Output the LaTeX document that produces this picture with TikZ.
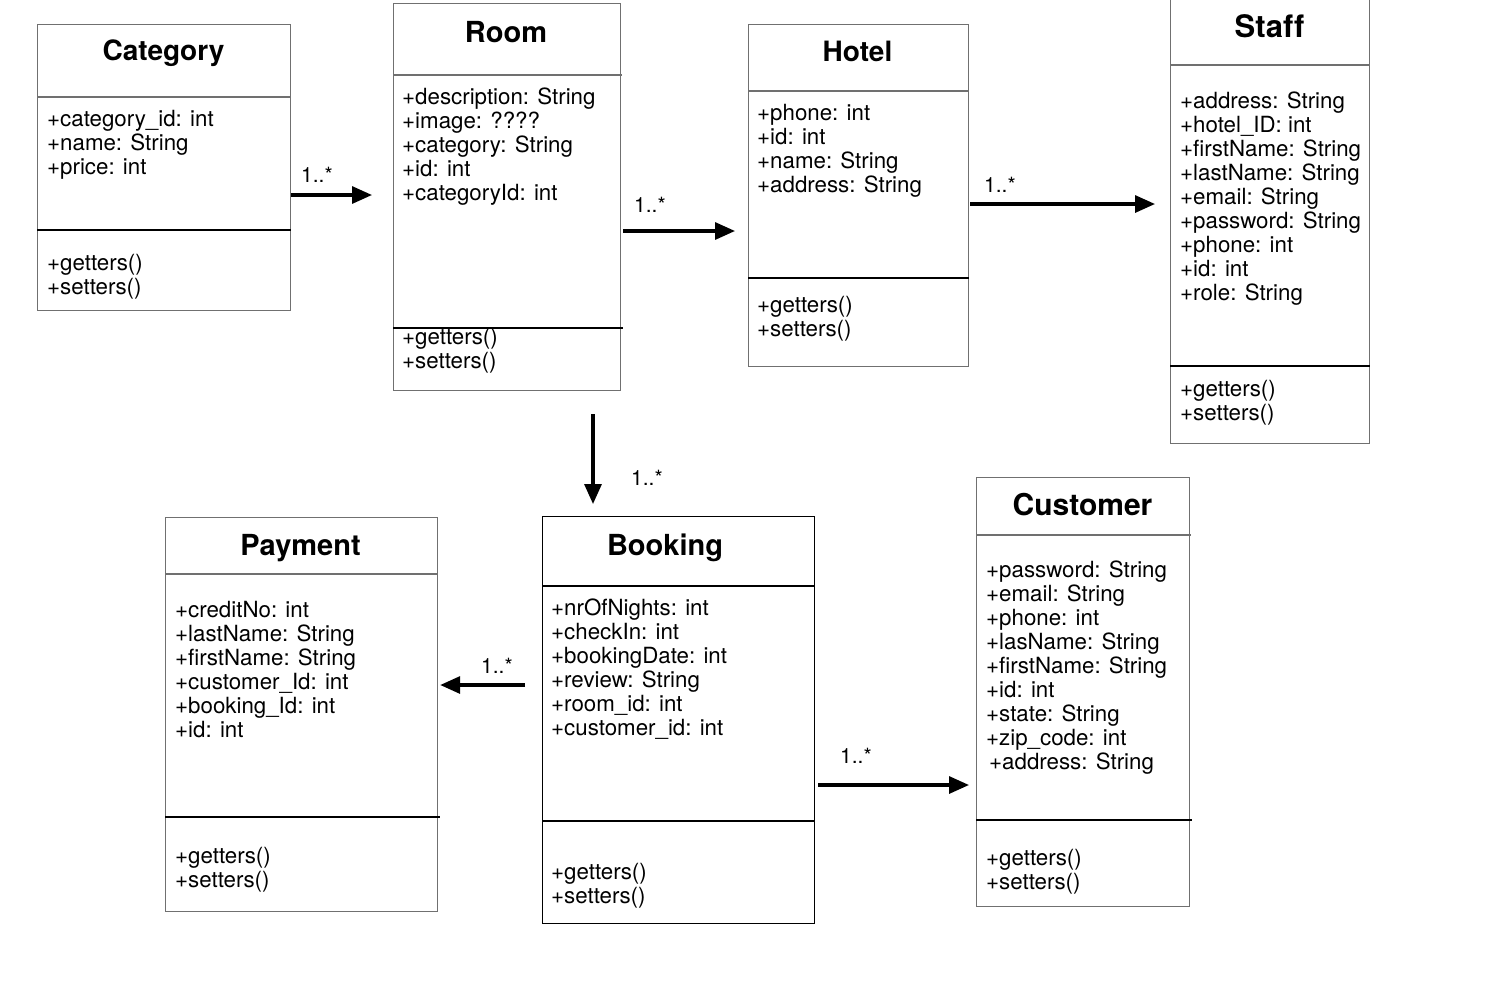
\documentclass[tikz,border=0pt]{standalone}
\usepackage{fontspec}
\setmainfont{TeX Gyre Heros}[Ligatures=NoCommon]
\usetikzlibrary{arrows.meta}
\definecolor{boxgray}{HTML}{707070}
\newcommand\attrlines[4]{%
  \foreach \t [count=\i] in {#4} {
    \node[attr] (#1-\i) at (#2, #3+24*\i-24) {\t};
  }%
}
\begin{document}
\begin{tikzpicture}[x=1pt,y=-1pt,
  box/.style={draw=boxgray, line width=1.2pt, fill=white, rectangle, inner sep=0pt, anchor=north west},
  tdiv/.style={draw=boxgray, line width=1.4pt},
  mdiv/.style={draw=black, line width=2pt},
  attr/.style={anchor=base west, inner sep=0pt, font=\fontsize{22.3}{24}\selectfont},
  ttl/.style={anchor=base, inner sep=0pt, font=\fontsize{29}{34}\selectfont\bfseries},
  mult/.style={anchor=base west, inner sep=0pt, font=\fontsize{21}{24}\selectfont},
  arr/.style={draw=black, line width=3.2pt, -{Triangle[length=20pt,width=17pt]}}
]
\useasboundingbox[fill=white] (0,0) rectangle (1486,986);

% Category
\node[box, minimum width=253pt, minimum height=286pt] (cat) at (37,24) {};
\draw[tdiv] (cat.west |- 0,97) -- (cat.east |- 0,97);
\draw[mdiv] (cat.west |- 0,230) -- (cat.east |- 0,230);
\node[ttl, font=\fontsize{28}{34}\selectfont\bfseries] (cat-t) at (163.5,60) {Category};
\attrlines{cata}{47}{126}{+category\_id: int,+name: String,+price: int}
\attrlines{catm}{47}{270}{+getters(),+setters()}

% Room
\node[box, minimum width=227pt, minimum height=387pt] (room) at (393,3) {};
\draw[tdiv] (room.west |- 0,75) -- ([xshift=1pt]room.east |- 0,75);
\draw[mdiv] (room.west |- 0,328) -- ([xshift=2pt]room.east |- 0,328);
\node[ttl] (room-t) at (506,42) {Room};
\attrlines{rooma}{402}{104}{+description: String,+image: ????,+category: String,+id: int,+categoryId: int}
\attrlines{roomm}{402}{344}{+getters(),+setters()}

% Hotel
\node[box, minimum width=220pt, minimum height=342pt] (hotel) at (748,24) {};
\draw[tdiv] (hotel.west |- 0,91) -- (hotel.east |- 0,91);
\draw[mdiv] (hotel.west |- 0,278) -- (hotel.east |- 0,278);
\node[ttl, font=\fontsize{28}{34}\selectfont\bfseries] (hotel-t) at (857.5,61) {Hotel};
\attrlines{hotela}{757}{120}{+phone: int,+id: int,+name: String,+address: String}
\attrlines{hotelm}{757}{312}{+getters(),+setters()}

% Staff
\node[box, minimum width=199pt, minimum height=447pt] (staff) at (1170,-4) {};
\draw[tdiv] (staff.west |- 0,65) -- (staff.east |- 0,65);
\draw[mdiv] (staff.west |- 0,366) -- (staff.east |- 0,366);
\node[ttl, font=\fontsize{31}{34}\selectfont\bfseries] (staff-t) at (1269.5,37) {Staff};
\attrlines{staffa}{1180}{108}{+address: String,+hotel\_ID: int,+firstName: String,+lastName: String,+email: String,+password: String,+phone: int,+id: int,+role: String}
\attrlines{staffm}{1180}{396}{+getters(),+setters()}

% Payment
\node[box, minimum width=272pt, minimum height=394pt] (pay) at (165,517) {};
\draw[tdiv] (pay.west |- 0,574) -- (pay.east |- 0,574);
\draw[mdiv] (pay.west |- 0,817) -- ([xshift=2pt]pay.east |- 0,817);
\node[ttl] (pay-t) at (300.5,555) {Payment};
\attrlines{paya}{175}{617}{+creditNo: int,+lastName: String,+firstName: String,+customer\_Id: int,+booking\_Id: int,+id: int}
\attrlines{paym}{175}{863}{+getters(),+setters()}

% Booking
\node[box, draw=black, minimum width=272pt, minimum height=407pt] (book) at (542,516) {};
\draw[mdiv] (book.west |- 0,586) -- (book.east |- 0,586);
\draw[mdiv] (book.west |- 0,821) -- (book.east |- 0,821);
\node[ttl] (book-t) at (665,555) {Booking};
\attrlines{booka}{551}{615}{+nrOfNights: int,+checkIn: int,+bookingDate: int,+review: String,+room\_id: int,+customer\_id: int}
\attrlines{bookm}{551}{879}{+getters(),+setters()}

% Customer
\node[box, minimum width=213pt, minimum height=429pt] (cust) at (976,477) {};
\draw[tdiv] (cust.west |- 0,535) -- ([xshift=1pt]cust.east |- 0,535);
\draw[mdiv] (cust.west |- 0,820) -- ([xshift=2pt]cust.east |- 0,820);
\node[ttl, font=\fontsize{30}{34}\selectfont\bfseries] (cust-t) at (1082.5,515) {Customer};
\attrlines{custa}{986}{577}{+password: String,+email: String,+phone: int,+lasName: String,+firstName: String,+id: int,+state: String,+zip\_code: int}
\node[attr] (custa-9) at (989,769) {+address: String};
\attrlines{custm}{986}{865}{+getters(),+setters()}

% Connectors
\draw[arr, shorten >=21pt] (cat.east |- 0,195) -- (room.west |- 0,195);
\node[mult] (m1) at (301,182) {1..*};
\draw[arr, shorten <=2pt, shorten >=13pt] (room.east |- 0,231) -- (hotel.west |- 0,231);
\node[mult] (m2) at (634,212) {1..*};
\draw[arr, shorten <=1pt, shorten >=15pt] (hotel.east |- 0,204) -- (staff.west |- 0,204);
\node[mult] (m3) at (984,192) {1..*};
\draw[arr, shorten <=23pt, shorten >=12pt] (593,0 |- room.south) -- (593,0 |- book.north);
\node[mult] (m4) at (631,485) {1..*};
\draw[arr, shorten <=17pt, shorten >=2pt] (book.west |- 0,685) -- (pay.east |- 0,685);
\node[mult] (m5) at (481,673) {1..*};
\draw[arr, shorten <=3pt, shorten >=7pt] (book.east |- 0,785) -- (cust.west |- 0,785);
\node[mult] (m6) at (840,763) {1..*};
\end{tikzpicture}
\end{document}
